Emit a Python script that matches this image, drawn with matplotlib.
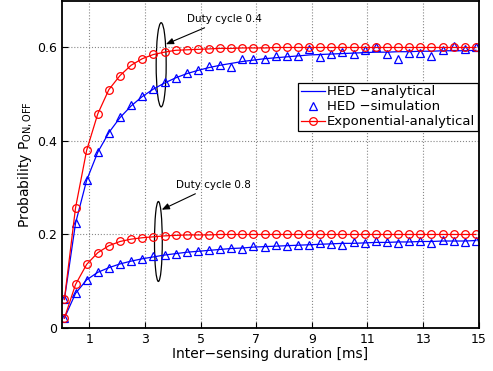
import numpy as np
import matplotlib.pyplot as plt
from matplotlib.patches import Ellipse

# inter-sensing duration [ms]
x = [0.1, 0.5, 0.9, 1.3, 1.7, 2.1, 2.5, 2.9, 3.3, 3.7, 4.1, 4.5, 4.9, 5.3, 5.7,
     6.1, 6.5, 6.9, 7.3, 7.7, 8.1, 8.5, 8.9, 9.3, 9.7, 10.1, 10.5, 10.9, 11.3,
     11.7, 12.1, 12.5, 12.9, 13.3, 13.7, 14.1, 14.5, 14.9]

# duty cycle 0.4
hed_ana_04 = [0.061, 0.224, 0.316, 0.376, 0.418, 0.450, 0.475, 0.495, 0.511, 0.524,
              0.535, 0.544, 0.551, 0.557, 0.562, 0.566, 0.570, 0.573, 0.576, 0.578,
              0.580, 0.582, 0.584, 0.585, 0.586, 0.587, 0.588, 0.589, 0.590, 0.590,
              0.591, 0.591, 0.592, 0.592, 0.593, 0.593, 0.593, 0.594]
hed_sim_04 = [0.061, 0.224, 0.316, 0.376, 0.418, 0.451, 0.476, 0.497, 0.512, 0.526,
              0.535, 0.546, 0.552, 0.561, 0.563, 0.559, 0.575, 0.575, 0.575, 0.582,
              0.582, 0.582, 0.597, 0.580, 0.586, 0.591, 0.586, 0.595, 0.602, 0.586,
              0.575, 0.589, 0.589, 0.582, 0.595, 0.603, 0.596, 0.600]
exp_ana_04 = [0.061, 0.257, 0.380, 0.458, 0.510, 0.540, 0.562, 0.576, 0.585, 0.590,
              0.594, 0.595, 0.596, 0.597, 0.598, 0.598, 0.599, 0.599, 0.599, 0.600,
              0.600, 0.600, 0.600, 0.600, 0.600, 0.600, 0.600, 0.600, 0.600, 0.600,
              0.600, 0.600, 0.600, 0.600, 0.600, 0.600, 0.600, 0.600]

# duty cycle 0.8
hed_ana_08 = [0.021, 0.074, 0.103, 0.119, 0.129, 0.137, 0.143, 0.148, 0.152, 0.156,
              0.159, 0.162, 0.164, 0.166, 0.168, 0.170, 0.171, 0.173, 0.174, 0.175,
              0.176, 0.177, 0.178, 0.179, 0.180, 0.181, 0.181, 0.182, 0.183, 0.183,
              0.184, 0.184, 0.185, 0.185, 0.186, 0.186, 0.186, 0.187]
hed_sim_08 = [0.021, 0.074, 0.103, 0.119, 0.128, 0.136, 0.143, 0.148, 0.153, 0.156,
              0.158, 0.162, 0.165, 0.167, 0.169, 0.171, 0.169, 0.175, 0.174, 0.177,
              0.176, 0.178, 0.177, 0.181, 0.180, 0.178, 0.183, 0.181, 0.187, 0.183,
              0.182, 0.185, 0.187, 0.182, 0.188, 0.187, 0.184, 0.186]
exp_ana_08 = [0.021, 0.093, 0.136, 0.161, 0.176, 0.185, 0.190, 0.193, 0.195, 0.197,
              0.198, 0.199, 0.199, 0.199, 0.200, 0.200, 0.200, 0.200, 0.200, 0.200,
              0.200, 0.200, 0.200, 0.200, 0.200, 0.200, 0.200, 0.200, 0.200, 0.200,
              0.200, 0.200, 0.200, 0.200, 0.200, 0.200, 0.200, 0.200]

xticks = [1, 3, 5, 7, 9, 11, 13, 15]
yticks = [0, 0.2, 0.4, 0.6]
ytick_labels = ['0', '0.2', '0.4', '0.6']

fig = plt.figure(figsize=(4.93, 3.71), dpi=100)
ax = fig.add_axes([0.125, 0.116, 0.846, 0.882])

ms = 5.5
# analytical HED lines
ax.plot(x, hed_ana_04, color='blue', lw=0.9, label='HED \u2212analytical')
ax.plot(x, hed_ana_08, color='blue', lw=0.9)
# simulation markers
ax.plot(x, hed_sim_04, ls='none', marker='^', ms=ms + 0.5, mfc='none', mec='blue',
        mew=0.9, label='HED \u2212simulation')
ax.plot(x, hed_sim_08, ls='none', marker='^', ms=ms + 0.5, mfc='none', mec='blue', mew=0.9)
# exponential
ax.plot(x, exp_ana_04, color='red', lw=0.9, marker='o', ms=ms, mfc='none',
        mew=0.9, label='Exponential-analytical')
ax.plot(x, exp_ana_08, color='red', lw=0.9, marker='o', ms=ms, mfc='none', mew=0.9)

ax.set_xlim(0, 15)
ax.set_ylim(0, 0.7)
ax.set_xticks(xticks)
ax.set_yticks(yticks)
ax.set_yticklabels(ytick_labels)
ax.tick_params(direction='in', labelsize=9, length=4)
ax.grid(True, ls=':', color='#888888', lw=0.8)
for s in ax.spines.values():
    s.set_linewidth(1.3)

ax.set_xlabel('Inter\u2212sensing duration [ms]', fontsize=10, labelpad=1)
ax.set_ylabel(r'Probability P$_{\mathrm{ON,OFF}}$', fontsize=10, labelpad=2)

# duty cycle annotations
ax.add_patch(Ellipse((3.58, 0.563), 0.36, 0.18, fill=False, color='black', lw=0.9))
ax.add_patch(Ellipse((3.48, 0.185), 0.28, 0.171, fill=False, color='black', lw=0.9))
ax.annotate('Duty cycle 0.4', xy=(3.75, 0.607), xytext=(4.5, 0.66),
            fontsize=7.5, va='center', ha='left',
            arrowprops=dict(arrowstyle='-|>,head_length=0.6,head_width=0.25',
                            color='black', lw=0.8, shrinkA=1, shrinkB=0))
ax.annotate('Duty cycle 0.8', xy=(3.6, 0.253), xytext=(4.1, 0.305),
            fontsize=7.5, va='center', ha='left',
            arrowprops=dict(arrowstyle='-|>,head_length=0.6,head_width=0.25',
                            color='black', lw=0.8, shrinkA=1, shrinkB=0))

leg = ax.legend(loc='upper right', bbox_to_anchor=(0.9985, 0.75), fontsize=9.5,
                frameon=True, fancybox=False, edgecolor='black', framealpha=1,
                borderpad=0.2, labelspacing=0.15, handlelength=1.8,
                handletextpad=0.2, borderaxespad=0, numpoints=1)
leg.get_frame().set_linewidth(0.9)

fig.savefig('out.png', dpi=100)
